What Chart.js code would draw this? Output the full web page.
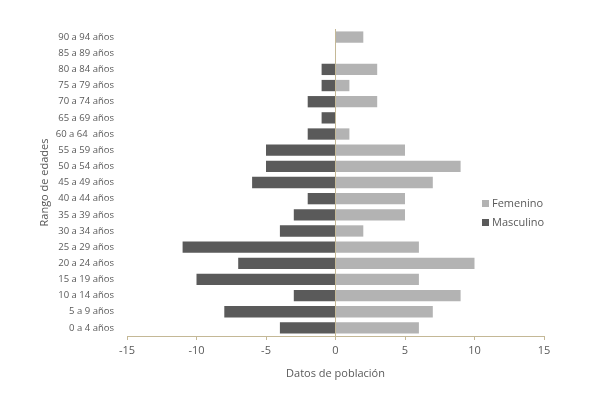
<!DOCTYPE html>
<html>
<head>
<meta charset="utf-8">
<script src="https://cdn.jsdelivr.net/npm/chart.js"></script>
<style>
  body { margin: 0; background: #fff; }
  #wrap { position: relative; width: 589px; height: 399px; }
  #legend { position: absolute; left: 482px; top: 195px; font: 11px "Open Sans", sans-serif; color: #595959; }
  #legend div { height: 19px; line-height: 16px; white-space: nowrap; }
  #legend span { display: inline-block; width: 7px; height: 7px; margin-right: 3px; vertical-align: 0px; }
</style>
</head>
<body>
<div id="wrap">
  <canvas id="chart" width="589" height="399"></canvas>
  <div id="legend"></div>
</div>
<script>
// age groups, bottom to top as drawn
const ageGroups = ['0 a 4 años', '5 a 9 años', '10 a 14 años', '15 a 19 años', '20 a 24 años',
  '25 a 29 años', '30 a 34 años', '35 a 39 años', '40 a 44 años', '45 a 49 años',
  '50 a 54 años', '55 a 59 años', '60 a 64  años', '65 a 69 años', '70 a 74 años',
  '75 a 79 años', '80 a 84 años', '85 a 89 años', '90 a 94 años'];
const femenino = [6, 7, 9, 6, 10, 6, 2, 5, 5, 7, 9, 5, 1, 0, 3, 1, 3, 0, 2];
const masculino = [-4, -8, -3, -10, -7, -11, -4, -3, -2, -6, -5, -5, -2, -1, -2, -1, -1, 0, 0];
const xTicks = [-15, -10, -5, 0, 5, 10, 15];

const axisColor = '#c4b896';
const textColor = '#595959';
const fontFamily = '"Open Sans", sans-serif';

// reverse so the first group sits at the bottom
const labels = ageGroups.slice().reverse();
const fem = femenino.slice().reverse();
const mas = masculino.slice().reverse();

const series = [
  { label: 'Femenino', data: fem, color: '#b3b3b3' },
  { label: 'Masculino', data: mas, color: '#5a5a5a' }
];

new Chart(document.getElementById('chart'), {
  type: 'bar',
  data: {
    labels: labels,
    datasets: series.map(s => ({
      label: s.label,
      data: s.data,
      backgroundColor: s.color,
      borderWidth: 0,
      categoryPercentage: 0.7,
      barPercentage: 1
    }))
  },
  options: {
    indexAxis: 'y',
    responsive: false,
    animation: false,
    layout: { padding: { left: 0, right: 45, top: 29, bottom: 19 } },
    plugins: {
      legend: { display: false },
      tooltip: { enabled: false }
    },
    scales: {
      x: {
        min: -15,
        max: 15,
        afterBuildTicks: axis => { axis.ticks = xTicks.map(v => ({ value: v })); },
        border: { color: axisColor, width: 1 },
        grid: {
          drawOnChartArea: true,
          color: ctx => (ctx.tick && ctx.tick.value === 0 ? axisColor : 'rgba(0,0,0,0)'),
          tickColor: axisColor,
          tickLength: 4
        },
        ticks: { color: textColor, font: { family: fontFamily, size: 11 }, padding: 4 },
        title: {
          display: true,
          text: 'Datos de población',
          color: textColor,
          font: { family: fontFamily, size: 11 },
          padding: { top: 6, bottom: 0 }
        },
        afterFit: scale => { scale.height = 44; }
      },
      y: {
        stacked: true,
        border: { display: false },
        grid: { display: false },
        ticks: { color: textColor, font: { family: fontFamily, size: 9.5 }, padding: 5 },
        title: {
          display: true,
          text: 'Rango de edades',
          color: textColor,
          font: { family: fontFamily, size: 11 },
          padding: { top: 38, bottom: 0 }
        },
        afterFit: scale => { scale.width = 127; }
      }
    }
  }
});

// legend inside the plot, to the right
const legendEl = document.getElementById('legend');
series.forEach(s => {
  const row = document.createElement('div');
  row.innerHTML = `<span style="background:${s.color}"></span>${s.label}`;
  legendEl.appendChild(row);
});
</script>
</body>
</html>
